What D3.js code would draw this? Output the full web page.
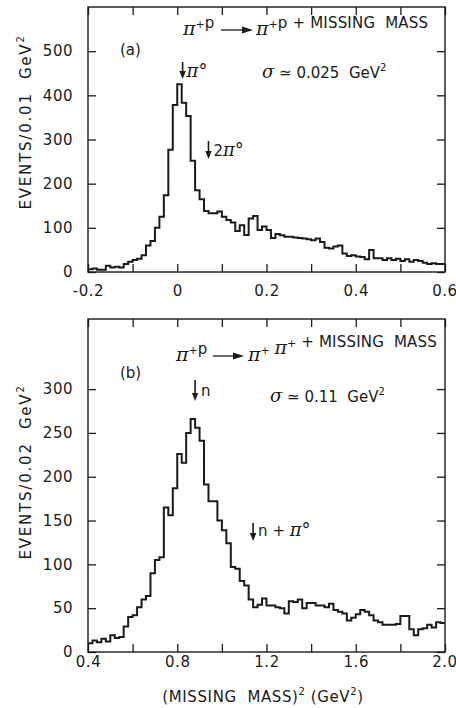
<!DOCTYPE html>
<html>
<head>
<meta charset="utf-8">
<script src="https://cdn.jsdelivr.net/npm/d3@7"></script>
<style>
  html, body { margin: 0; padding: 0; background: #ffffff; }
  svg { display: block; }
  text { font-family: "DejaVu Sans", "Liberation Sans", Arial, sans-serif; fill: #1a1a1a; }
</style>
</head>
<body>
<script>
// ---------------- DATA ----------------
// Panel (a): pi+ p -> pi+ p + MM, bins of 0.01 GeV^2 starting at -0.20
const topBinStart = -0.2;
const topBinWidth = 0.01;
const topCounts = [
  6, 8, 5, 5, 14, 10, 12, 10, 18, 23,
  27, 30, 38, 60, 70, 100, 125, 174, 277, 378,
  425, 383, 353, 252, 185, 165, 138, 133, 133, 137,
  125, 118, 112, 93, 106, 84, 121, 127, 95, 103,
  95, 77, 86, 83, 80, 80, 78, 77, 76, 74,
  72, 76, 68, 55, 53, 58, 60, 42, 36, 38,
  35, 34, 29, 50, 31, 31, 27, 31, 27, 30,
  25, 29, 23, 27, 25, 21, 18, 20, 18, 18
];
const topXTicks = [-0.2, -0.1, 0, 0.1, 0.2, 0.3, 0.4, 0.5, 0.6];
const topXLabels = ["-0.2", "", "0", "", "0.2", "", "0.4", "", "0.6"];
const topYTicks = [0, 100, 200, 300, 400, 500];
const topYLabels = ["0", "100", "200", "300", "400", "500"];

// Panel (b): pi+ p -> pi+ pi+ + MM, bins of 0.02 GeV^2 starting at 0.40
const botBinStart = 0.4;
const botBinWidth = 0.02;
const botCounts = [
  10, 13, 11, 15, 12, 19, 16, 17, 29, 40,
  42, 51, 60, 64, 90, 105, 108, 165, 156, 187,
  226, 216, 250, 266, 256, 241, 191, 172, 172, 150,
  139, 124, 97, 95, 81, 76, 60, 51, 54, 61,
  53, 53, 51, 50, 44, 58, 57, 60, 50, 56,
  56, 53, 53, 51, 55, 48, 46, 44, 36, 39,
  43, 48, 46, 42, 36, 34, 31, 31, 31, 32,
  41, 41, 26, 19, 26, 27, 31, 28, 34, 33
];
const botXTicks = [0.4, 0.6, 0.8, 1.0, 1.2, 1.4, 1.6, 1.8, 2.0];
const botXLabels = ["0.4", "", "0.8", "", "1.2", "", "1.6", "", "2.0"];
const botYTicks = [0, 50, 100, 150, 200, 250, 300];
const botYLabels = ["0", "50", "100", "150", "200", "250", "300"];

// Marker positions (GeV^2)
const topMarkers = [{x: 0.012, label: "π°"}, {x: 0.07, label: "2π°"}];
const botMarkers = [{x: 0.88, label: "n"}, {x: 1.14, label: "n + π°"}];

// ---------------- DRAW ----------------
const W = 456, H = 708;
const ink = "#1a1a1a";
const svg = d3.select("body").append("svg").attr("width", W).attr("height", H);

function panel(cfg) {
  const g = svg.append("g");
  const x = d3.scaleLinear().domain(cfg.xDomain).range([cfg.left, cfg.right]);
  const y = d3.scaleLinear().domain(cfg.yDomain).range([cfg.bottom, cfg.top]);

  g.append("rect")
    .attr("x", cfg.left).attr("y", cfg.top)
    .attr("width", cfg.right - cfg.left).attr("height", cfg.bottom - cfg.top)
    .attr("fill", "none").attr("stroke", ink).attr("stroke-width", 1.4);

  const tk = 8;
  const fmtX = d => cfg.xLabels[cfg.xTicks.indexOf(d)];
  const fmtY = d => cfg.yLabels[cfg.yTicks.indexOf(d)];

  const ax = [
    g.append("g").attr("transform", `translate(0,${cfg.bottom})`)
      .call(d3.axisBottom(x).tickValues(cfg.xTicks).tickSizeInner(-tk).tickSizeOuter(0)
        .tickPadding(cfg.xPad).tickFormat(fmtX)),
    g.append("g").attr("transform", `translate(0,${cfg.top})`)
      .call(d3.axisTop(x).tickValues(cfg.xTicks).tickSizeInner(-tk).tickSizeOuter(0).tickFormat("")),
    g.append("g").attr("transform", `translate(${cfg.left},0)`)
      .call(d3.axisLeft(y).tickValues(cfg.yTicks).tickSizeInner(-tk).tickSizeOuter(0)
        .tickPadding(15).tickFormat(fmtY)),
    g.append("g").attr("transform", `translate(${cfg.right},0)`)
      .call(d3.axisRight(y).tickValues(cfg.yTicks).tickSizeInner(-tk).tickSizeOuter(0).tickFormat(""))
  ];
  ax.forEach(a => {
    a.select(".domain").remove();
    a.selectAll(".tick line").attr("stroke", ink).attr("stroke-width", 1.3);
    a.selectAll(".tick text").attr("font-size", 15).attr("letter-spacing", 0.5)
      .attr("fill", ink).attr("font-family", "DejaVu Sans, Liberation Sans, sans-serif");
  });
  ax[0].selectAll(".tick text").filter((d, i, n) => i === n.length - 1)
    .attr("text-anchor", "end").attr("dx", 12);

  const pts = cfg.counts.map((c, i) => [cfg.binStart + i * cfg.binWidth, c]);
  pts.push([cfg.binStart + cfg.counts.length * cfg.binWidth, cfg.counts[cfg.counts.length - 1]]);
  const line = d3.line().x(d => x(d[0])).y(d => y(d[1])).curve(d3.curveStepAfter);
  g.append("path").attr("d", line(pts)).attr("fill", "none")
    .attr("stroke", ink).attr("stroke-width", 2).attr("stroke-linejoin", "miter");

  return {g, x, y};
}

function downArrow(g, cx, y0, y1) {
  g.append("line").attr("x1", cx).attr("x2", cx).attr("y1", y0).attr("y2", y1 - 5)
    .attr("stroke", ink).attr("stroke-width", 1.6);
  g.append("path").attr("d", `M${cx - 3.2},${y1 - 8} L${cx + 3.2},${y1 - 8} L${cx},${y1} Z`).attr("fill", ink);
}
function rightArrow(g, x0, x1, yy) {
  g.append("line").attr("x1", x0).attr("x2", x1 - 8).attr("y1", yy).attr("y2", yy)
    .attr("stroke", ink).attr("stroke-width", 1.3);
  g.append("path").attr("d", `M${x1 - 11},${yy - 3.4} L${x1},${yy} L${x1 - 11},${yy + 3.4} Z`).attr("fill", ink);
}
const piSize = 19;
function piText(sel, sup) {
  sel.append("tspan").text("π").attr("font-family", "DejaVu Serif, serif").attr("font-style", "italic").attr("font-size", piSize);
  sel.append("tspan").text(sup).attr("font-size", 11).attr("dy", -7);
  sel.append("tspan").attr("dy", 7).text("");
}

// ---------- Panel (a) ----------
const A = panel({
  left: 88, right: 445, top: 7, bottom: 272,
  xDomain: [-0.2, 0.6], yDomain: [0, 600],
  xTicks: topXTicks, xLabels: topXLabels, yTicks: topYTicks, yLabels: topYLabels,
  xPad: 13.5,
  counts: topCounts, binStart: topBinStart, binWidth: topBinWidth
});

// ---------- Panel (b) ----------
const B = panel({
  left: 88, right: 445, top: 319, bottom: 652,
  xDomain: [0.4, 2.0], yDomain: [0, 380],
  xTicks: botXTicks, xLabels: botXLabels, yTicks: botYTicks, yLabels: botYLabels,
  xPad: 4,
  counts: botCounts, binStart: botBinStart, binWidth: botBinWidth
});

function yTitle(cx, cy, per) {
  const t = svg.append("text").attr("transform", `translate(${cx},${cy}) rotate(-90)`)
    .attr("text-anchor", "middle").attr("font-size", 15).attr("letter-spacing", 1.8)
    .attr("xml:space", "preserve");
  t.append("tspan").text(`EVENTS/${per}  GeV`);
  t.append("tspan").text("2").attr("font-size", 10).attr("dy", -7);
}
yTitle(31, 122, "0.01");
yTitle(31, 472, "0.02");

const fs = 15;
// reaction labels (a)
let t = svg.append("text").attr("x", 183).attr("y", 35).attr("font-size", fs);
piText(t, "+"); t.append("tspan").text("p");
rightArrow(svg, 221, 253, 30);
t = svg.append("text").attr("x", 256).attr("y", 35).attr("font-size", fs).attr("xml:space", "preserve");
piText(t, "+"); t.append("tspan").text("p + MISSING  MASS").attr("letter-spacing", 0.2);

svg.append("text").attr("x", 120).attr("y", 55).attr("font-size", fs).text("(a)");
t = svg.append("text").attr("x", 262).attr("y", 78).attr("font-size", fs).attr("xml:space", "preserve");
t.append("tspan").text("σ").attr("font-family", "DejaVu Serif, serif").attr("font-style", "italic").attr("font-size", 18);
t.append("tspan").text(" ≃ 0.025  GeV");
t.append("tspan").text("2").attr("font-size", 10).attr("dy", -7);

// markers (a)
downArrow(svg, A.x(topMarkers[0].x), 62, 79);
t = svg.append("text").attr("x", A.x(topMarkers[0].x) + 4).attr("y", 77).attr("font-size", fs);
t.append("tspan").text(topMarkers[0].label).attr("font-family", "DejaVu Serif, serif").attr("font-style", "italic").attr("font-size", 18);
downArrow(svg, A.x(topMarkers[1].x), 141, 159);
t = svg.append("text").attr("x", A.x(topMarkers[1].x) + 5).attr("y", 156).attr("font-size", fs);
t.append("tspan").text("2");
t.append("tspan").text("π°").attr("font-family", "DejaVu Serif, serif").attr("font-style", "italic").attr("font-size", 18);

// reaction labels (b)
t = svg.append("text").attr("x", 176).attr("y", 361).attr("font-size", fs);
piText(t, "+"); t.append("tspan").text("p");
rightArrow(svg, 213, 244, 356);
t = svg.append("text").attr("x", 248).attr("y", 361).attr("font-size", fs).attr("xml:space", "preserve");
piText(t, "+"); t.append("tspan").text(" ");
piText(t, "+"); t.append("tspan").text(" + MISSING  MASS").attr("letter-spacing", 0.2);

svg.append("text").attr("x", 120).attr("y", 378).attr("font-size", fs).text("(b)");
t = svg.append("text").attr("x", 270).attr("y", 402).attr("font-size", fs).attr("xml:space", "preserve");
t.append("tspan").text("σ").attr("font-family", "DejaVu Serif, serif").attr("font-style", "italic").attr("font-size", 18);
t.append("tspan").text(" ≃ 0.11  GeV");
t.append("tspan").text("2").attr("font-size", 10).attr("dy", -7);

downArrow(svg, B.x(botMarkers[0].x), 380, 401);
svg.append("text").attr("x", B.x(botMarkers[0].x) + 6).attr("y", 396).attr("font-size", fs).text(botMarkers[0].label);
downArrow(svg, B.x(botMarkers[1].x), 523, 541);
t = svg.append("text").attr("x", B.x(botMarkers[1].x) + 5).attr("y", 536).attr("font-size", fs).attr("xml:space", "preserve");
t.append("tspan").text("n + ");
t.append("tspan").text("π°").attr("font-family", "DejaVu Serif, serif").attr("font-style", "italic").attr("font-size", 18);

// x axis title
t = svg.append("text").attr("x", 263).attr("y", 702).attr("text-anchor", "middle")
  .attr("font-size", 15).attr("letter-spacing", 0.6).attr("xml:space", "preserve");
t.append("tspan").text("(MISSING  MASS)");
t.append("tspan").text("2").attr("font-size", 10).attr("dy", -7);
t.append("tspan").text(" (GeV").attr("dy", 7);
t.append("tspan").text("2").attr("font-size", 10).attr("dy", -7);
t.append("tspan").text(")").attr("dy", 7);
</script>
</body>
</html>
